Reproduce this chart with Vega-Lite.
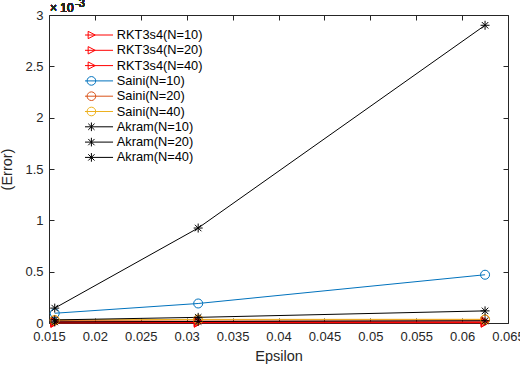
{
  "$schema": "https://vega.github.io/schema/vega-lite/v6.json",
  "width": 459,
  "height": 308,
  "autosize": "none",
  "padding": {"left": 49, "top": 15, "right": 12, "bottom": 49},
  "background": "white",
  "config": {
    "view": {"stroke": null},
    "font": "Liberation Sans",
    "axis": {
      "grid": false,
      "domainColor": "#262626",
      "tickColor": "#262626",
      "labelColor": "#262626",
      "titleColor": "#262626",
      "labelFont": "Liberation Sans",
      "titleFont": "Liberation Sans",
      "labelFontSize": 13,
      "titleFontSize": 14.5,
      "titleFontWeight": "normal",
      "domainWidth": 1,
      "tickWidth": 1,
      "labelFlush": false,
      "labelOverlap": false,
      "labelBound": false
    },
    "legend": {
      "title": null, "padding": 0,
      "labelFont": "Liberation Sans", "labelFontSize": 12.8, "labelColor": "#000000",
      "symbolSize": 117, "symbolStrokeWidth": 1, "symbolOpacity": 1,
      "symbolFillColor": "transparent",
      "labelOffset": 19, "rowPadding": 1.3, "clipHeight": 14
    }
  },
  "data": {
    "values": [
      {"series": "RKT3s4(N=10)", "x": 0.015625, "y": 0.012},
      {"series": "RKT3s4(N=10)", "x": 0.03125, "y": 0.015},
      {"series": "RKT3s4(N=10)", "x": 0.0625, "y": 0.018},
      {"series": "RKT3s4(N=20)", "x": 0.015625, "y": 0.004},
      {"series": "RKT3s4(N=20)", "x": 0.03125, "y": 0.005},
      {"series": "RKT3s4(N=20)", "x": 0.0625, "y": 0.006},
      {"series": "RKT3s4(N=40)", "x": 0.015625, "y": 0.001},
      {"series": "RKT3s4(N=40)", "x": 0.03125, "y": 0.002},
      {"series": "RKT3s4(N=40)", "x": 0.0625, "y": 0.002},
      {"series": "Saini(N=10)", "x": 0.015625, "y": 0.095},
      {"series": "Saini(N=10)", "x": 0.03125, "y": 0.19},
      {"series": "Saini(N=10)", "x": 0.0625, "y": 0.47},
      {"series": "Saini(N=20)", "x": 0.015625, "y": 0.025},
      {"series": "Saini(N=20)", "x": 0.03125, "y": 0.03},
      {"series": "Saini(N=20)", "x": 0.0625, "y": 0.032},
      {"series": "Saini(N=40)", "x": 0.015625, "y": 0.03},
      {"series": "Saini(N=40)", "x": 0.03125, "y": 0.035},
      {"series": "Saini(N=40)", "x": 0.0625, "y": 0.036},
      {"series": "Akram(N=10)", "x": 0.015625, "y": 0.145},
      {"series": "Akram(N=10)", "x": 0.03125, "y": 0.925},
      {"series": "Akram(N=10)", "x": 0.0625, "y": 2.9},
      {"series": "Akram(N=20)", "x": 0.015625, "y": 0.03},
      {"series": "Akram(N=20)", "x": 0.03125, "y": 0.055},
      {"series": "Akram(N=20)", "x": 0.0625, "y": 0.118},
      {"series": "Akram(N=40)", "x": 0.015625, "y": 0.01},
      {"series": "Akram(N=40)", "x": 0.03125, "y": 0.015},
      {"series": "Akram(N=40)", "x": 0.0625, "y": 0.022}
    ]
  },
  "layer": [
    {
      "mark": {"type": "line", "strokeWidth": 1, "clip": false},
      "encoding": {
        "x": {
          "field": "x", "type": "quantitative",
          "scale": {"domain": [0.015, 0.065], "nice": false, "zero": false},
          "axis": {
            "orient": "bottom", "title": "Epsilon",
            "values": [0.015, 0.02, 0.025, 0.03, 0.035, 0.04, 0.045, 0.05, 0.055, 0.06, 0.065],
            "format": "~g", "tickSize": -5, "labelPadding": 12, "titlePadding": 6
          }
        },
        "y": {
          "field": "y", "type": "quantitative",
          "scale": {"domain": [0, 3], "nice": false},
          "axis": {
            "orient": "left", "title": "(Error)",
            "values": [0, 0.5, 1, 1.5, 2, 2.5, 3],
            "format": "~g", "tickSize": -5, "labelPadding": 11, "titlePadding": 10
          }
        },
        "color": {
          "field": "series", "type": "nominal",
          "scale": {
            "domain": ["RKT3s4(N=10)", "RKT3s4(N=20)", "RKT3s4(N=40)", "Saini(N=10)", "Saini(N=20)", "Saini(N=40)", "Akram(N=10)", "Akram(N=20)", "Akram(N=40)"],
            "range": ["#FF0000", "#FF0000", "#FF0000", "#0072BD", "#D95319", "#EDB120", "#000000", "#000000", "#000000"]
          },
          "legend": {"orient": "none", "legendX": 36, "legendY": 13}
        }
      }
    },
    {
      "transform": [{"filter": "indexof(datum.series,'RKT')===0"}],
      "mark": {"type": "point", "shape": "triangle-right", "filled": false, "strokeWidth": 1, "size": 81, "opacity": 1, "clip": false},
      "encoding": {
        "x": {
          "field": "x", "type": "quantitative",
          "axis": {"orient": "top", "title": null, "labels": false, "tickSize": -5,
            "values": [0.015, 0.02, 0.025, 0.03, 0.035, 0.04, 0.045, 0.05, 0.055, 0.06, 0.065]}
        },
        "y": {
          "field": "y", "type": "quantitative",
          "axis": {"orient": "right", "title": null, "labels": false, "tickSize": -5,
            "values": [0, 0.5, 1, 1.5, 2, 2.5, 3]}
        },
        "color": {"field": "series", "type": "nominal", "legend": {"orient": "none", "legendX": 36, "legendY": 13}}
      }
    },
    {
      "transform": [{"filter": "indexof(datum.series,'Saini')===0"}],
      "mark": {"type": "point", "shape": "circle", "filled": false, "strokeWidth": 1, "size": 81, "opacity": 1, "clip": false},
      "encoding": {
        "x": {"field": "x", "type": "quantitative", "axis": null},
        "y": {"field": "y", "type": "quantitative", "axis": null},
        "color": {"field": "series", "type": "nominal", "legend": {"orient": "none", "legendX": 36, "legendY": 13}}
      }
    },
    {
      "transform": [{"filter": "indexof(datum.series,'Akram')===0"}],
      "mark": {"type": "point", "shape": "M0,-1V1M-1,0H1M-0.72,-0.72L0.72,0.72M-0.72,0.72L0.72,-0.72", "filled": false, "strokeWidth": 1, "size": 81, "opacity": 1, "clip": false},
      "encoding": {
        "x": {"field": "x", "type": "quantitative", "axis": null},
        "y": {"field": "y", "type": "quantitative", "axis": null},
        "color": {"field": "series", "type": "nominal", "legend": {"orient": "none", "legendX": 36, "legendY": 13}}
      }
    },
    {
      "transform": [{"filter": "datum.x < 0"}],
      "mark": {"type": "point", "filled": false, "strokeWidth": 1, "opacity": 1},
      "encoding": {
        "x": {"field": "x", "type": "quantitative", "axis": null},
        "y": {"field": "y", "type": "quantitative", "axis": null},
        "color": {"field": "series", "type": "nominal", "legend": {"orient": "none", "legendX": 36, "legendY": 13}},
        "shape": {
          "field": "series", "type": "nominal",
          "scale": {
            "domain": ["RKT3s4(N=10)", "RKT3s4(N=20)", "RKT3s4(N=40)", "Saini(N=10)", "Saini(N=20)", "Saini(N=40)", "Akram(N=10)", "Akram(N=20)", "Akram(N=40)"],
            "range": [
              "M-4,0H4M-0.6,-0.68L0.7,0L-0.6,0.68Z", "M-4,0H4M-0.6,-0.68L0.7,0L-0.6,0.68Z", "M-4,0H4M-0.6,-0.68L0.7,0L-0.6,0.68Z",
              "M-4,0H4M0.8,0A0.8,0.8,0,1,1,-0.8,0A0.8,0.8,0,1,1,0.8,0", "M-4,0H4M0.8,0A0.8,0.8,0,1,1,-0.8,0A0.8,0.8,0,1,1,0.8,0", "M-4,0H4M0.8,0A0.8,0.8,0,1,1,-0.8,0A0.8,0.8,0,1,1,0.8,0",
              "M-4,0H4M0,-0.8V0.8M-0.58,-0.58L0.58,0.58M-0.58,0.58L0.58,-0.58", "M-4,0H4M0,-0.8V0.8M-0.58,-0.58L0.58,0.58M-0.58,0.58L0.58,-0.58", "M-4,0H4M0,-0.8V0.8M-0.58,-0.58L0.58,0.58M-0.58,0.58L0.58,-0.58"
            ]
          },
          "legend": {"orient": "none", "legendX": 36, "legendY": 13}
        }
      }
    },
    {
      "mark": {"type": "text", "text": "× 10", "align": "left", "baseline": "alphabetic", "dx": 1, "dy": -3, "fontSize": 12, "font": "Liberation Sans", "color": "#262626"},
      "encoding": {
        "x": {"datum": 0.015, "type": "quantitative", "axis": null},
        "y": {"datum": 3, "type": "quantitative", "axis": null}
      }
    },
    {
      "mark": {"type": "text", "text": "-3", "align": "left", "baseline": "alphabetic", "dx": 26, "dy": -8, "fontSize": 11, "font": "Liberation Sans", "color": "#262626"},
      "encoding": {
        "x": {"datum": 0.015, "type": "quantitative", "axis": null},
        "y": {"datum": 3, "type": "quantitative", "axis": null}
      }
    }
  ],
  "resolve": {"axis": {"x": "independent", "y": "independent"}}
}
